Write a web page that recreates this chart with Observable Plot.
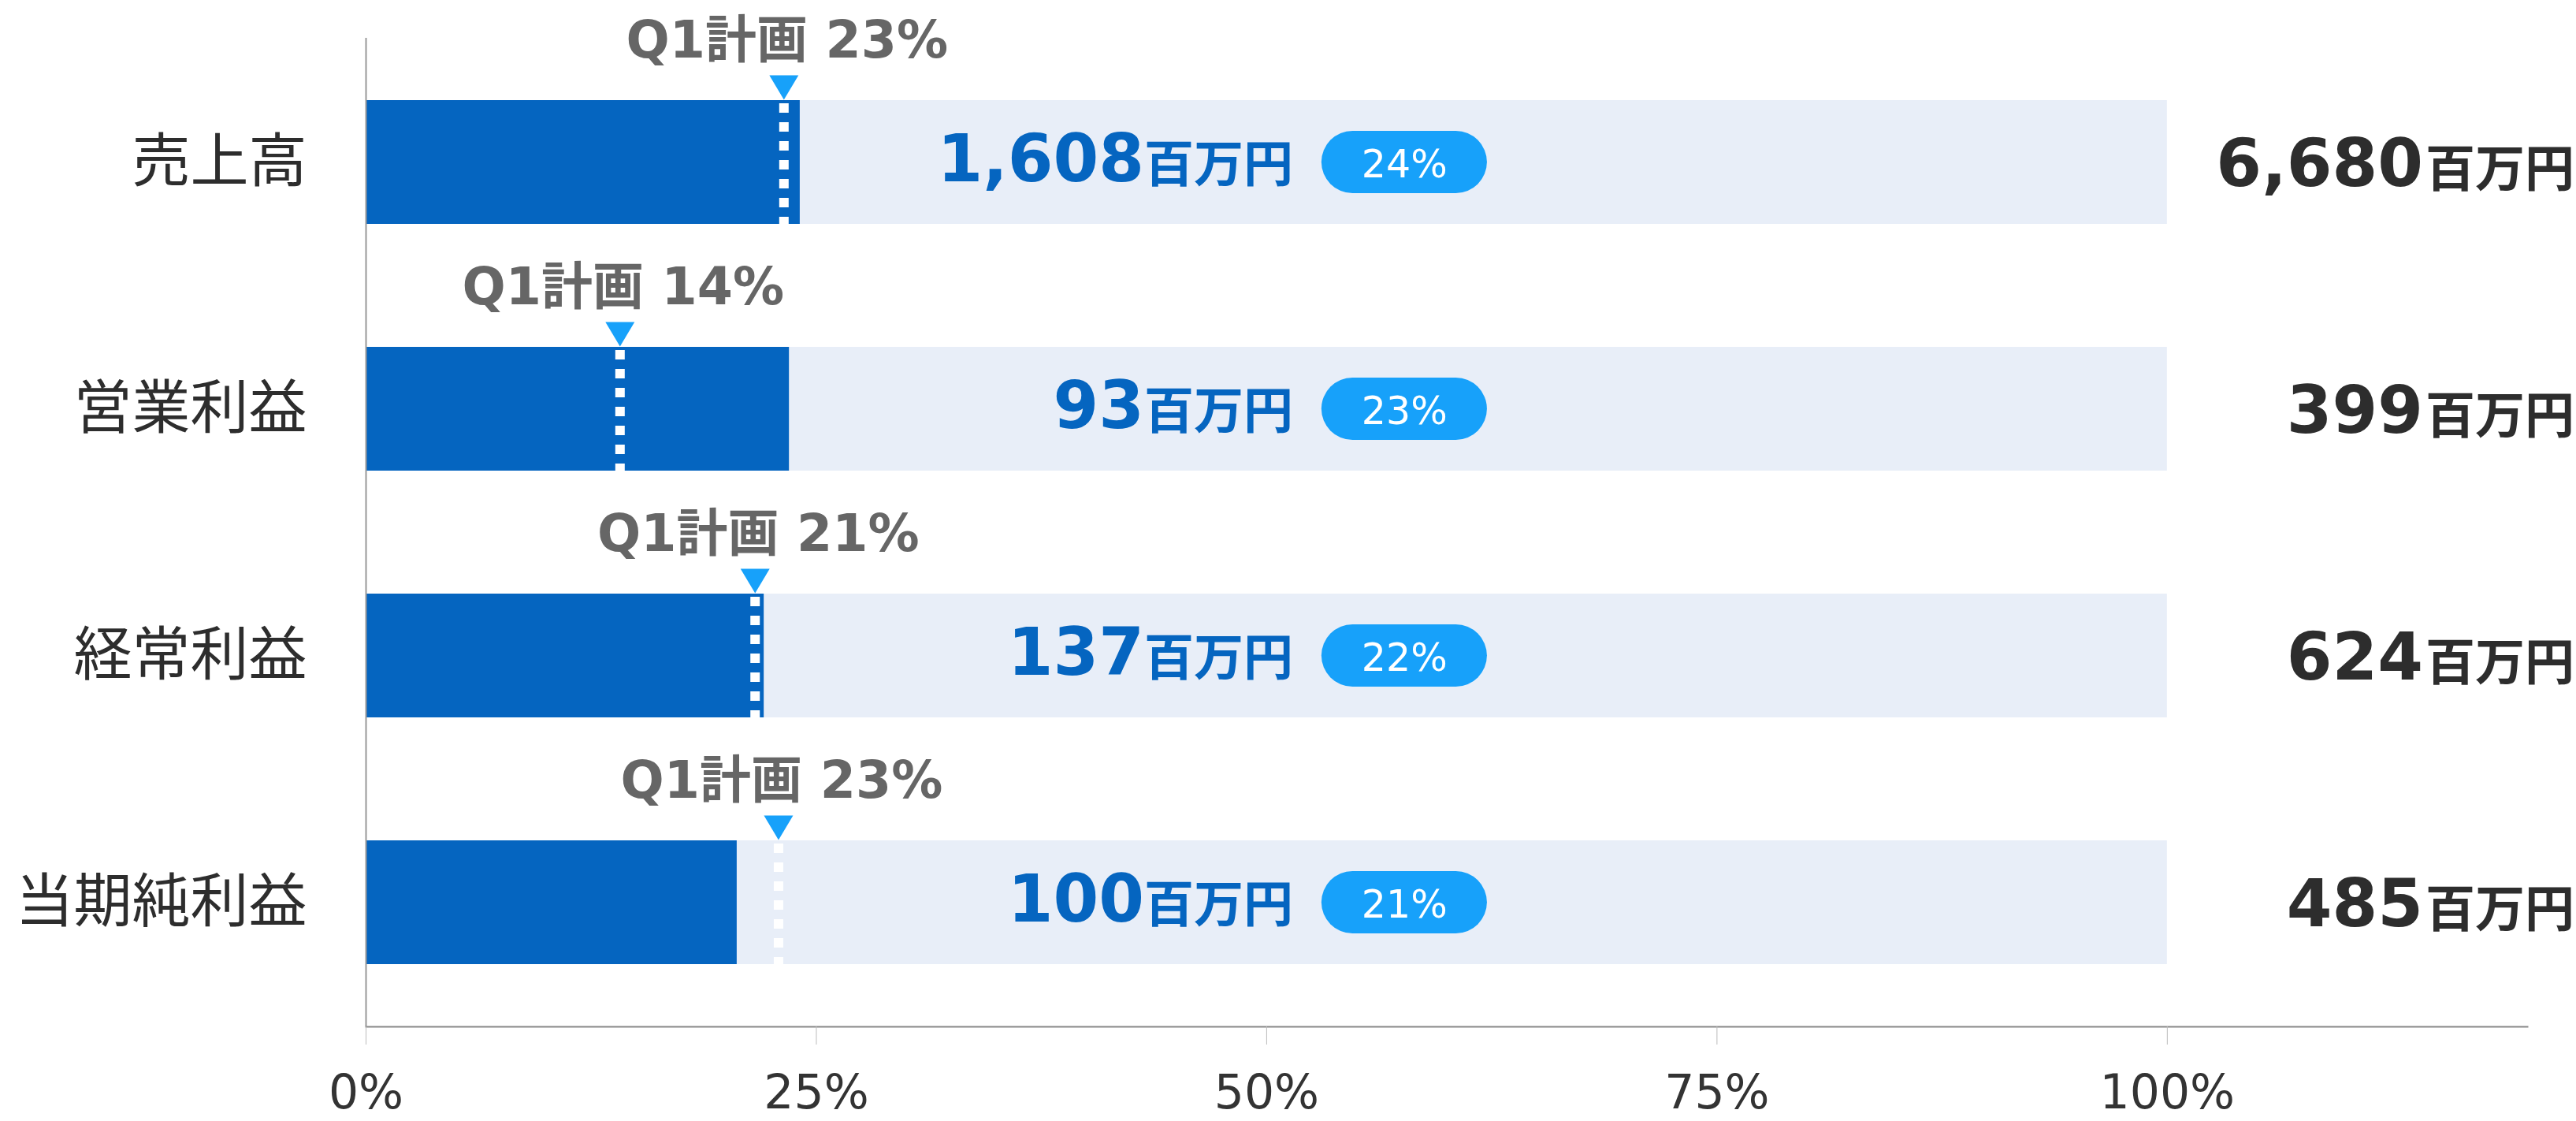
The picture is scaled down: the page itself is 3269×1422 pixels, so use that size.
<!DOCTYPE html>
<html>
<head>
<meta charset="utf-8">
<script src="https://cdn.jsdelivr.net/npm/d3@7"></script>
<script src="https://cdn.jsdelivr.net/npm/@observablehq/plot@0.6"></script>
<style>
  html, body { margin: 0; padding: 0; background: #fff; }
</style>
</head>
<body>
<div id="chart"></div>
<script>
// ---- data ----
const categories    = ["売上高", "営業利益", "経常利益", "当期純利益"];
const actuals       = [1608, 93, 137, 100];      // Q1 actual, 百万円
const targets       = [6680, 399, 624, 485];     // full-year plan, 百万円
const achievedPct   = [24.1, 23.5, 22.1, 20.6];  // progress vs full-year plan, %
const achievedLabel = [24, 23, 22, 21];          // pill labels, %
const planPct       = [23.2, 14.1, 21.6, 22.9];  // Q1 plan marker position, %
const planLabel     = [23, 14, 21, 23];          // Q1 plan labels, %
const xTicks        = [0, 25, 50, 75, 100];

const rows = categories.map((c, i) => ({
  category: c,
  actual: actuals[i],
  target: targets[i],
  pct: achievedPct[i],
  pctLabel: achievedLabel[i],
  plan: planPct[i],
  planLabel: planLabel[i]
}));

const fmt = d3.format(",");
const LATIN = '"DejaVu Sans", "Noto Sans CJK JP", sans-serif';
const CJK = '"Noto Sans CJK JP", sans-serif';

const triangleDown = {
  draw(context) {
    context.moveTo(-18.5, -15.5);
    context.lineTo(18.5, -15.5);
    context.lineTo(0, 15.5);
    context.closePath();
  }
};

const chart = Plot.plot({
  width: 3269,
  height: 1422,
  marginTop: 48,
  marginBottom: 120,
  marginLeft: 464,
  marginRight: 62,
  style: { fontFamily: LATIN, fontSize: "60px", color: "#333", background: "#fff" },
  x: { domain: [0, 120], label: null },
  y: { domain: categories, paddingInner: 0.5, paddingOuter: 0.25, label: null },
  marks: [
    // full-year (100%) background bars
    Plot.barX(rows, { y: "category", x1: 0, x2: 100, fill: "#E8EEF8" }),
    // achieved bars
    Plot.barX(rows, { y: "category", x1: 0, x2: "pct", fill: "#0565C0" }),
    // Q1 plan dotted line
    Plot.tickX(rows, {
      x: "plan", y: "category", stroke: "#ffffff", strokeWidth: 12,
      strokeDasharray: "12,12", strokeDashoffset: 20
    }),
    // Q1 plan marker
    Plot.dot(rows, { x: "plan", y: "category", symbol: triangleDown, fill: "#17A1FA", dy: -95 }),
    // Q1 plan label
    Plot.text(rows, {
      x: "plan", y: "category", text: d => `Q1計画 ${d.planLabel}%`,
      lineAnchor: "bottom", dy: -133, dx: 4, fill: "#666666",
      fontWeight: "bold", fontSize: 65, fontFamily: LATIN
    }),
    // actual value (number + unit)
    Plot.text(rows, {
      x: 43.2, y: "category", text: d => fmt(d.actual), textAnchor: "end",
      lineAnchor: "bottom", dy: 24, fill: "#0565C0",
      fontWeight: "bold", fontSize: 83, fontFamily: LATIN
    }),
    Plot.text(rows, {
      x: 43.2, y: "category", text: () => "百万円", textAnchor: "start",
      lineAnchor: "bottom", dy: 24, fill: "#0565C0",
      fontWeight: "bold", fontSize: 63, fontFamily: CJK
    }),
    // progress pill
    Plot.barX(rows, {
      y: "category", x1: 53.06, x2: 62.25, fill: "#17A1FA",
      insetTop: 39, insetBottom: 39, rx: 39.5
    }),
    Plot.text(rows, {
      x: 57.65, y: "category", text: d => `${d.pctLabel}%`,
      lineAnchor: "bottom", dy: 19, fill: "#ffffff",
      fontSize: 49, fontFamily: LATIN
    }),
    // full-year target
    Plot.text(rows, {
      x: 114.2, y: "category", text: d => fmt(d.target), textAnchor: "end", dx: 0,
      lineAnchor: "bottom", dy: 30, fill: "#2d2d2d",
      fontWeight: "bold", fontSize: 83, fontFamily: LATIN
    }),
    Plot.text(rows, {
      x: 114.2, y: "category", text: () => "百万円", textAnchor: "start", dx: 3,
      lineAnchor: "bottom", dy: 30, fill: "#2d2d2d",
      fontWeight: "bold", fontSize: 63, fontFamily: CJK
    }),
    // axes
    Plot.ruleX([0], { stroke: "#999", strokeWidth: 2 }),
    Plot.frame({ anchor: "bottom", stroke: "#888", strokeWidth: 2 }),
    Plot.axisX({
      ticks: xTicks, tickFormat: d => `${d}%`, tickSize: 23, tickPadding: 38,
      stroke: "#bbb", fill: "#333", fontSize: 60, fontFamily: LATIN, label: null
    }),
    Plot.axisY({
      tickSize: 0, tickPadding: 75, fill: "#2d2d2d", fontSize: 74,
      fontFamily: CJK, label: null
    })
  ]
});

document.getElementById("chart").appendChild(chart);
</script>
</body>
</html>
